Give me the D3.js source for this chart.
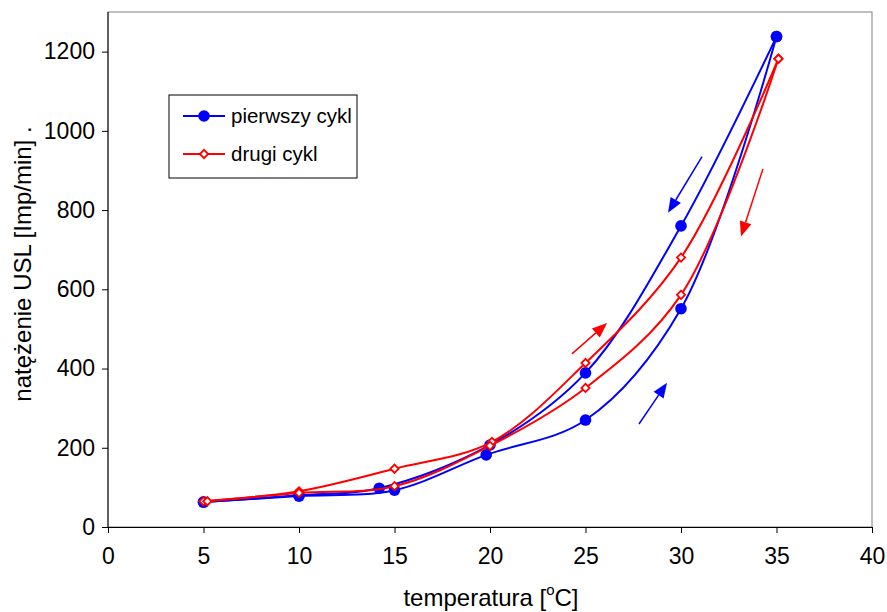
<!DOCTYPE html>
<html>
<head>
<meta charset="utf-8">
<script src="https://cdn.jsdelivr.net/npm/d3@7"></script>
<style>
  html, body { margin: 0; padding: 0; background: #fff; }
  svg { display: block; font-family: "Liberation Sans", Arial, sans-serif; }
</style>
</head>
<body>
<svg id="chart" width="887" height="612"></svg>
<script>
// Temperature [°C] and USL count rate [Imp/min], heating and cooling branches of each cycle
const cycle1UpX   = [5, 10, 15, 19.8, 25, 30, 35];
const cycle1UpY   = [63, 78, 93, 182, 270, 551, 1238];
const cycle1DownX = [35, 30, 25, 20, 14.2, 10, 5];
const cycle1DownY = [1238, 760, 389, 207, 98, 80, 63];

const cycle2UpX   = [5, 10, 15, 20.1, 25, 30, 35.1];
const cycle2UpY   = [65, 90, 147, 215, 414, 680, 1182];
const cycle2DownX = [35.1, 30, 25, 20, 15, 10, 5.2];
const cycle2DownY = [1182, 586, 351, 205, 103, 86, 65];

const seriesNames = ["pierwszy cykl", "drugi cykl"];

const xTicks = [0, 5, 10, 15, 20, 25, 30, 35, 40];
const yTicks = [0, 200, 400, 600, 800, 1000, 1200];

// Direction arrows (start and tip, in data units)
const arrowSeries = ["blue", "blue", "red", "red"];
const arrowFromX = [31.10, 27.80, 24.29, 34.29];
const arrowFromY = [935, 260, 437, 904];
const arrowToX   = [29.32, 29.27, 26.13, 33.14];
const arrowToY   = [793, 364, 515, 733];

const BLUE = "#0000ff", RED = "#ff0000";
const TICK_FONT = 23, TITLE_FONT = 24, LEGEND_FONT = 20.5;

const svg = d3.select("#chart");
const plot = { left: 108, right: 872, top: 12, bottom: 527 };

const x = d3.scaleLinear().domain([0, 40]).range([plot.left, plot.right]);
const y = d3.scaleLinear().domain([0, 1300]).range([plot.bottom, plot.top]);

// plot area frame
svg.append("rect")
  .attr("x", plot.left).attr("y", plot.top)
  .attr("width", plot.right - plot.left).attr("height", plot.bottom - plot.top)
  .attr("fill", "none").attr("stroke", "#808080").attr("stroke-width", 1);

// axes
const xAxis = d3.axisBottom(x).tickValues(xTicks).tickFormat(d3.format("d"))
  .tickSize(6).tickPadding(15).tickSizeOuter(0);
const yAxis = d3.axisLeft(y).tickValues(yTicks).tickFormat(d3.format("d"))
  .tickSize(6).tickPadding(7).tickSizeOuter(0);

const gx = svg.append("g").attr("transform", `translate(0,${plot.bottom})`).call(xAxis);
const gy = svg.append("g").attr("transform", `translate(${plot.left},0)`).call(yAxis);
[gx, gy].forEach(g => {
  g.select(".domain").attr("stroke", "#000").attr("stroke-width", 1);
  g.selectAll(".tick line").attr("stroke", "#000");
  g.selectAll(".tick text").attr("font-size", TICK_FONT).attr("fill", "#000")
    .attr("font-family", "Liberation Sans, Arial, sans-serif");
});
gy.select(".domain").attr("d", `M0,${plot.bottom}V${plot.top}`);

// axis titles
const xt = svg.append("text")
  .attr("x", 491).attr("y", 606)
  .attr("text-anchor", "middle").attr("font-size", TITLE_FONT).attr("fill", "#000");
xt.append("tspan").text("temperatura [");
xt.append("tspan").attr("dy", -11).attr("font-size", 15).text("o");
xt.append("tspan").attr("dy", 11).text("C]");

svg.append("text")
  .attr("transform", `translate(31,${264}) rotate(-90)`)
  .attr("text-anchor", "middle").attr("font-size", TITLE_FONT).attr("fill", "#000")
  .text("natężenie USL [Imp/min] .");

// smoothed lines
const line = d3.line().x(d => x(d[0])).y(d => y(d[1])).curve(d3.curveCatmullRom.alpha(0.5));
const zip = (xs, ys) => xs.map((v, i) => [v, ys[i]]);

const series = [
  { color: BLUE, marker: "circle", branches: [zip(cycle1UpX, cycle1UpY), zip(cycle1DownX, cycle1DownY)] },
  { color: RED,  marker: "diamond", branches: [zip(cycle2UpX, cycle2UpY), zip(cycle2DownX, cycle2DownY)] }
];

const diamond = d3.symbol().type(d3.symbolSquare).size(34);

function drawMarker(g, type, color, cx, cy) {
  if (type === "circle") {
    g.append("circle").attr("cx", cx).attr("cy", cy).attr("r", 5.8).attr("fill", color);
  } else {
    g.append("path").attr("d", diamond())
      .attr("transform", `translate(${cx},${cy}) rotate(45)`)
      .attr("fill", "#fff").attr("stroke", color).attr("stroke-width", 1.8);
  }
}

series.forEach(s => {
  const g = svg.append("g");
  s.branches.forEach(b => {
    g.append("path").attr("d", line(b)).attr("fill", "none")
      .attr("stroke", s.color).attr("stroke-width", 2);
  });
  s.branches.forEach(b => b.forEach(p => drawMarker(g, s.marker, s.color, x(p[0]), y(p[1]))));
});

// direction arrows
const ag = svg.append("g");
arrowSeries.forEach((c, i) => {
  const color = c === "blue" ? BLUE : RED;
  const x0 = x(arrowFromX[i]), y0 = y(arrowFromY[i]);
  const x1 = x(arrowToX[i]), y1 = y(arrowToY[i]);
  const ang = Math.atan2(y1 - y0, x1 - x0);
  const hl = 15, hw = 6;
  const bx = x1 - hl * Math.cos(ang), by = y1 - hl * Math.sin(ang);
  ag.append("line").attr("x1", x0).attr("y1", y0).attr("x2", bx).attr("y2", by)
    .attr("stroke", color).attr("stroke-width", 1.5);
  const px = -Math.sin(ang) * hw, py = Math.cos(ang) * hw;
  ag.append("path")
    .attr("d", `M${x1},${y1}L${bx + px},${by + py}L${bx - px},${by - py}Z`)
    .attr("fill", color);
});

// legend
const lg = svg.append("g");
lg.append("rect").attr("x", 169).attr("y", 95).attr("width", 188).attr("height", 83)
  .attr("fill", "#fff").attr("stroke", "#000").attr("stroke-width", 1);
series.forEach((s, i) => {
  const cy = 116 + i * 38;
  lg.append("line").attr("x1", 183).attr("x2", 225).attr("y1", cy).attr("y2", cy)
    .attr("stroke", s.color).attr("stroke-width", 2);
  drawMarker(lg, s.marker, s.color, 204, cy);
  lg.append("text").attr("x", 231).attr("y", cy + 7).attr("font-size", LEGEND_FONT)
    .attr("fill", "#000").text(seriesNames[i]);
});
</script>
</body>
</html>
